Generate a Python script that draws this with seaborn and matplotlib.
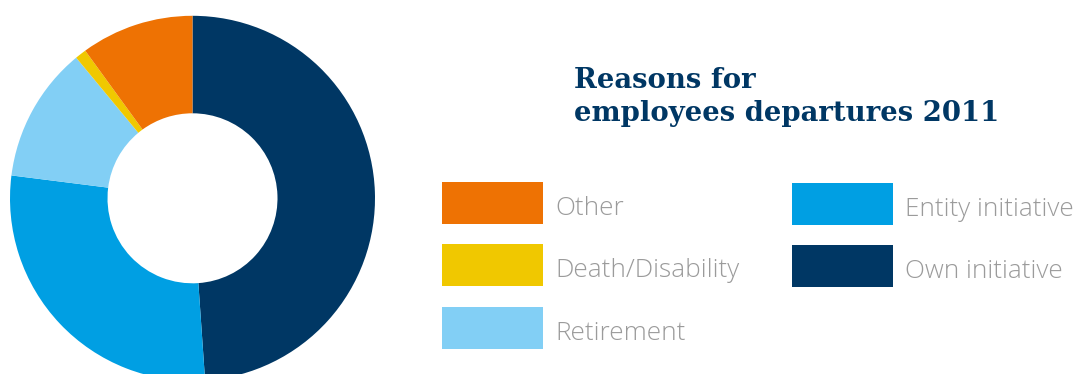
import matplotlib
matplotlib.use("Agg")
import matplotlib.pyplot as plt
from matplotlib.patches import Rectangle
import seaborn as sns

# ---- data ----
categories = ["Own initiative", "Entity initiative", "Retirement", "Death/Disability", "Other"]
shares = [48.9, 28.1, 12.0, 1.0, 10.0]
colors = ["#003764", "#009FE3", "#82CFF5", "#F0C800", "#EE7203"]
legend_left = ["Other", "Death/Disability", "Retirement"]
legend_right = ["Entity initiative", "Own initiative"]
title_lines = ["Reasons for", "employees departures 2011"]

sns.set_theme(style="white")
plt.rcParams['font.family'] = ['Open Sans', 'DejaVu Sans']

W, H = 1077, 374
fig = plt.figure(figsize=(W / 100, H / 100), dpi=100)
fig.patch.set_facecolor("white")

def fx(x):
    return x / W

def fy(y):
    return 1 - y / H

# donut
cx, cy, R, r_in = 192.5, 198.3, 182.5, 85.0
ax = fig.add_axes([fx(cx - R), fy(cy + R), 2 * R / W, 2 * R / H])
ax.pie(shares, colors=colors, startangle=90, counterclock=False, radius=1,
       wedgeprops=dict(width=1 - r_in / R, linewidth=0, edgecolor="none"))
ax.set_xlim(-1, 1)
ax.set_ylim(-1, 1)
ax.set_aspect("equal")
ax.axis("off")

# title
navy = "#003764"
for line, base in zip(title_lines, [87.7, 121.0]):
    fig.text(fx(574), fy(base), line, fontsize=19.8, fontweight="bold",
             family="DejaVu Serif", color=navy, va="baseline", ha="left")

# legend
color_of = dict(zip(categories, colors))
box_w, box_h = 101, 41.5
label_color = "#9b9b9b"

def draw_column(labels, x0, tops):
    for lab, top in zip(labels, tops):
        fig.patches.append(Rectangle((fx(x0), fy(top + box_h)), box_w / W, box_h / H,
                                     transform=fig.transFigure, facecolor=color_of[lab],
                                     edgecolor="none", figure=fig))
        fig.text(fx(x0 + box_w + 12), fy(top + 33), lab, fontsize=18.8,
                 fontweight="light", color=label_color, va="baseline", ha="left")

draw_column(legend_left, 442, [182.3, 244.0, 307.0])
draw_column(legend_right, 792, [183.3, 245.3])

fig.savefig("out.png", dpi=100, facecolor="white")
